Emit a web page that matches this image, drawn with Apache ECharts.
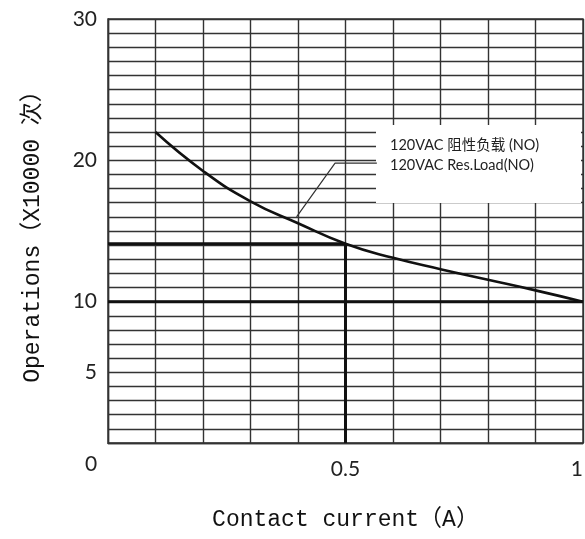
<!DOCTYPE html>
<html>
<head>
<meta charset="utf-8">
<script src="https://cdn.jsdelivr.net/npm/echarts@6/dist/echarts.min.js"></script>
<style>html,body{margin:0;padding:0;background:#fff}#c{width:585px;height:539px}</style>
</head>
<body>
<div id="c"></div>
<script>
// ---- data ----
const curveX = [0.1, 0.2, 0.3, 0.4, 0.5, 0.6, 0.7, 0.8, 0.9, 1.0];
const curveY = [22.0, 19.25, 17.1, 15.55, 14.1, 13.1, 12.3, 11.55, 10.8, 10.0];
const xTickValues = [0.5, 1];
const xTickLabels = ['0.5', '1'];
const yTickValues = [5, 10, 20, 30];
const yTickLabels = ['5', '10', '20', '30'];
const refLineH10 = [[0, 10], [1, 10]];
const refLineH14 = [[0, 14.1], [0.5, 14.1]];
const refLineV05 = [[0.5, 0], [0.5, 14.1]];
const leaderLine = [[0.397, 16.0], [0.478, 19.8], [0.566, 19.8]];
const legendLines = ['120VAC 阻性负载 (NO)', '120VAC Res.Load(NO)'];
const originLabel = '0';
const xTitle = 'Contact current（A）';
const yTitle = 'Operations（X10000 次）';

const curve = curveX.map((x, i) => [x, curveY[i]]);
const near = (a, b) => Math.abs(a - b) < 1e-6;

const chart = echarts.init(document.getElementById('c'));
const monoFont = "'Liberation Mono', 'Noto Sans CJK SC', monospace";
const labelFont = "Lato, 'Noto Sans CJK SC', sans-serif";
const gridColor = '#333';

chart.setOption({
  animation: false,
  backgroundColor: '#fff',
  grid: { left: 108, top: 19, right: 2, bottom: 96, outerBoundsMode: 'none', containLabel: false, show: true, borderColor: gridColor, borderWidth: 1.4, backgroundColor: '#fff' },
  xAxis: {
    type: 'value', min: 0, max: 1, interval: 0.1,
    name: xTitle, nameLocation: 'middle', nameGap: 65,
    nameTextStyle: { fontFamily: monoFont, fontSize: 23, color: '#111' },
    axisLine: { show: true, lineStyle: { color: gridColor, width: 1.4 } },
    axisTick: { show: false },
    splitLine: { show: true, lineStyle: { color: gridColor, width: 1.4 } },
    axisLabel: {
      margin: 16, fontFamily: labelFont, fontSize: 21, color: '#222', hideOverlap: false, alignMaxLabel: 'right',
      formatter: v => { const i = xTickValues.findIndex(t => near(t, v)); return i >= 0 ? xTickLabels[i] : ''; }
    }
  },
  yAxis: {
    type: 'value', min: 0, max: 30, interval: 1,
    name: yTitle, nameLocation: 'middle', nameGap: 64, nameRotate: 90,
    nameTextStyle: { fontFamily: monoFont, fontSize: 23, color: '#111' },
    axisLine: { show: true, lineStyle: { color: gridColor, width: 1.4 } },
    axisTick: { show: false },
    splitLine: { show: true, lineStyle: { color: gridColor, width: 1.4 } },
    axisLabel: {
      margin: 11, fontFamily: labelFont, fontSize: 21, color: '#222',
      formatter: v => { const i = yTickValues.findIndex(t => near(t, v)); return i >= 0 ? yTickLabels[i] : ''; }
    }
  },
  series: [
    { type: 'line', data: refLineH10, symbol: 'none', lineStyle: { color: '#111', width: 3 }, z: 3 },
    { type: 'line', data: refLineH14, symbol: 'none', lineStyle: { color: '#111', width: 3 }, z: 3 },
    { type: 'line', data: refLineV05, symbol: 'none', lineStyle: { color: '#111', width: 3 }, z: 3 },
    { type: 'line', data: curve, symbol: 'none', smooth: true, lineStyle: { color: '#111', width: 2.6 }, z: 4 },
    { type: 'line', data: leaderLine, symbol: 'none', lineStyle: { color: '#333', width: 1.2 }, z: 4 }
  ],
  graphic: [
    { type: 'rect', z: 1, shape: { x: 376, y: 125, width: 205, height: 78 }, style: { fill: '#fff' } },
    { type: 'text', z: 5, x: 390, y: 145, style: { text: legendLines[0], font: "14.5px Lato, 'Noto Sans CJK SC', sans-serif", fill: '#222', verticalAlign: 'middle' } },
    { type: 'text', z: 5, x: 390, y: 165, style: { text: legendLines[1], font: "14.5px Lato, 'Noto Sans CJK SC', sans-serif", fill: '#222', verticalAlign: 'middle' } },
    { type: 'text', z: 5, x: 91, y: 464, style: { text: originLabel, font: "21px Lato, sans-serif", fill: '#222', align: 'center', verticalAlign: 'middle' } }
  ]
});
</script>
</body>
</html>
